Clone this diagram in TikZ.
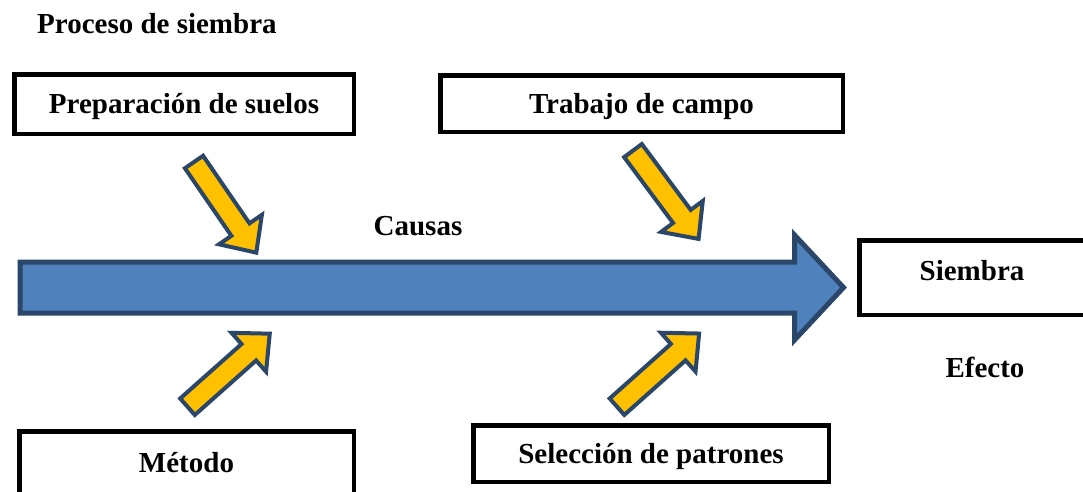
\documentclass[tikz,border=0pt]{standalone}
\usepackage{fontspec}
\setmainfont{Liberation Serif}
\usetikzlibrary{calc}
\definecolor{flechaazul}{HTML}{4F81BD}
\definecolor{bordeazul}{HTML}{2A4668}
\definecolor{flechaamarilla}{HTML}{FFC000}
\tikzset{
    caja/.style={draw=black,line width=4.5pt,text height=19pt,text depth=0pt,inner sep=0pt},
    texto/.style={font=\bfseries\fontsize{29}{34}\selectfont},
    flecha/.style={fill=flechaamarilla,draw=bordeazul,line width=4pt,line join=miter}
}
\begin{document}
\begin{tikzpicture}[x=1pt,y=-1pt,texto]
            \useasboundingbox(0,0) rectangle (1083,491);
            \clip(0,0) rectangle (1083,491);

            \node[anchor=base west,inner sep=0pt] (titulo) at (37,33) {Proceso de siembra};

            \node[caja,minimum width=339.5pt,minimum height=59.5pt] (suelos) at (184,104) {Preparación de suelos};
            \node[caja,minimum width=402.5pt,minimum height=56.5pt] (campo) at (641.5,103.5) {Trabajo de campo};
            \node[caja,minimum width=334.5pt,minimum height=62.5pt] (metodo) at (186.5,462.5) {Método};
            \node[caja,minimum width=355.5pt,minimum height=56.5pt] (patrones) at (651,453.5) {Selección de patrones};
            \node[caja,text depth=14pt,minimum width=225.5pt,minimum height=74.5pt] (siembra) at (972,277.5) {Siembra};

            \node[anchor=base] (causas) at (418,235) {Causas};
            \node[anchor=base] (efecto) at (985,377) {Efecto};

            % espina
            \draw[line width=5pt,draw=bordeazul,fill=flechaazul](20,262)--(794.5,262)--(794.5,235)--(843.5,287.5)--(794.5,340)--(794.5,313)--(20,313)--cycle;

            \foreach \x/\y/\a in{194/162/-55.5,633/150.6/-53.4,617/406.7/41.7,187.5/406.7/41.6}{
                \draw[flecha,shift={(\x,\y)},rotate=\a](0,-11)--(82,-11)--(82,-26)--(110,0)--(82,26)--(82,11)--(0,11)--cycle;
            }

        \end{tikzpicture}
\end{document}
